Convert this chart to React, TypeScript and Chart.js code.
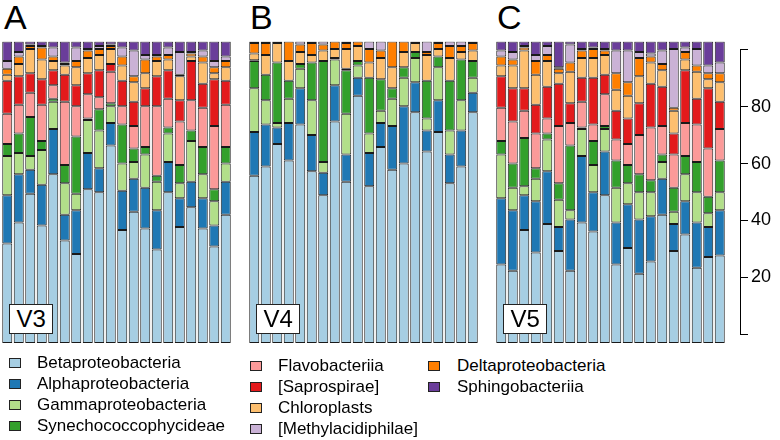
import React, { useEffect, useRef } from "react";
import { Chart, registerables } from "chart.js";
Chart.register(...registerables);

const FONT = "'Liberation Sans', Arial, Helvetica, sans-serif";

// Legend order
const categories = [
  "Betaproteobacteria",
  "Alphaproteobacteria",
  "Gammaproteobacteria",
  "Synechococcophycideae",
  "Flavobacteriia",
  "[Saprospirae]",
  "Chloroplasts",
  "[Methylacidiphilae]",
  "Deltaproteobacteria",
  "Sphingobacteriia",
];
const colors = ["#A6CEE3", "#1F78B4", "#B2DF8A", "#33A02C", "#FB9A99", "#E31A1C", "#FDBF6F", "#CAB2D6", "#FF7F00", "#6A3D9A"];
// stacking order from bottom (indices into categories)
const stackOrder = [0, 1, 2, 3, 4, 5, 6, 8, 7, 9];

const samples = ["1", "2", "3", "4", "5", "6", "7", "8", "9", "10", "11", "12", "13", "14", "15", "16", "17", "18", "19", "20"];
const panelLetters = ["A", "B", "C"];
const regionLabels = ["V3", "V4", "V5"];
const yTicks = [0, 20, 40, 60, 80, 100];

// ---- V3 (panel A) ----
const v3Beta = [33, 40, 49.5, 39, 56, 34, 29.5, 51, 50, 65.5, 37.5, 43.5, 38, 31, 50, 38.5, 45, 38, 32, 42.5];
const v3Alpha = [16, 16, 8, 13.5, 15, 8.5, 14.5, 12, 8, 7.5, 13, 11, 13.5, 13, 10, 9.5, 8.5, 10, 7, 11];
const v3Gamma = [13, 7, 4.5, 11.5, 9, 10.5, 5.5, 11, 12.5, 5.5, 9, 5.5, 11, 9.5, 9.5, 5, 13.5, 8, 8, 6];
const v3Syn = [4, 6.5, 13, 3, 1, 6, 19, 0.5, 7, 1, 13, 4.5, 2.5, 2, 2, 6, 3.5, 9, 4, 5.5];
const v3Flavo = [10, 9.5, 8, 12, 4.5, 21, 10, 8, 4, 10.5, 6, 7.5, 13.5, 23, 9.5, 14.5, 10, 13, 21, 14];
const v3Sapro = [11, 9.5, 6.5, 8.5, 5, 9, 7, 7, 9, 2.5, 8.5, 8, 6, 10, 9.5, 7, 13, 8, 15.5, 8];
const v3Chloro = [2, 4, 8, 6.5, 3, 3, 6, 5, 5, 5, 5, 6.5, 5, 5, 3.5, 8, 1.5, 7, 2, 4.5];
const v3Methyl = [2.5, 1.5, 0.5, 0.5, 3, 0.5, 4.5, 0.5, 1, 0.5, 3, 8.5, 1.5, 0.5, 2.5, 7.5, 0.5, 2, 2, 1.5];
const v3Delta = [2, 2.5, 1, 4, 1.5, 0.5, 2, 2.5, 2, 1, 3, 2, 4.5, 1.5, 1.5, 0.5, 1, 2, 2, 2];
const v3Sphingo = [6.5, 3.5, 1, 1.5, 2, 7, 2, 2.5, 1.5, 1, 2, 3, 4.5, 4.5, 2, 3.5, 3.5, 3, 6.5, 5];

// ---- V4 (panel B) ----
const v4Beta = [55.5, 58.5, 66, 60.5, 72.5, 57, 49, 73.5, 53.5, 82, 52, 65, 57.5, 59.5, 76.5, 63.5, 70, 53, 58.5, 76.5];
const v4Alpha = [14.5, 14, 5.5, 12.5, 12, 12, 7.5, 12, 9, 6, 11, 8, 14.5, 19, 10, 7, 10.5, 9.5, 12, 6.5];
const v4Gamma = [14.5, 8, 1.5, 8, 6.5, 11.5, 3.5, 8.5, 13.5, 4, 6.5, 4, 9, 9.5, 8, 4, 11, 8, 10, 5];
const v4Syn = [9, 8.5, 20, 6, 1.5, 12.5, 33.5, 0.5, 14.5, 1.5, 18.5, 10.5, 3.5, 3.5, 2, 12.5, 3.5, 16.5, 13.5, 5.5];
const v4Flavo = [0, 0, 0, 0, 0, 0, 0, 0, 0, 0, 0, 0, 0, 0, 0, 0, 0, 0, 0, 0];
const v4Sapro = [0.3, 0, 0, 0, 0, 0, 0, 0, 0.5, 0, 0, 0, 0, 0, 0, 0, 0, 0, 0, 0];
const v4Chloro = [2.2, 6.5, 6.5, 6.5, 4, 2.5, 3.5, 3, 6.5, 5, 5, 7, 7, 5, 3, 8.5, 2.5, 7.5, 2.5, 3.5];
const v4Methyl = [0.5, 0, 0, 0, 1, 0, 1, 0, 0, 0, 2.5, 3, 0, 0, 0.2, 3.5, 0.5, 1.5, 1.5, 0];
const v4Delta = [3.5, 4, 0.5, 6.5, 2.5, 4, 2, 2.5, 2, 1.5, 4.5, 2.5, 8.5, 3.5, 0.3, 1, 2, 4, 2, 2.5];
const v4Sphingo = [0, 0.5, 0, 0, 0, 0.5, 0, 0, 0.5, 0, 0, 0, 0, 0, 0, 0, 0, 0, 0, 0.5];

// ---- V5 (panel C) ----
const v5Beta = [26, 24, 37.5, 30, 39.5, 30.5, 24, 40, 37, 49, 26, 31.5, 23, 27, 42.5, 30.5, 36, 25, 28.5, 29];
const v5Alpha = [22, 20, 11.5, 17, 17.5, 8, 17, 22, 13, 14.5, 14, 14.5, 18, 15, 12, 9, 11, 15, 10, 15];
const v5Gamma = [14.5, 7.5, 3, 7.5, 10.5, 9, 3, 9, 9, 7.5, 11.5, 7, 9, 8, 5.5, 4, 9, 10, 4.5, 6];
const v5Syn = [4.5, 8, 16, 3.5, 2, 5.5, 21.5, 0.5, 8, 1, 9, 6, 6, 4, 2.5, 8, 6, 10, 5.5, 10.5];
const v5Flavo = [11, 14, 9, 11.5, 5, 19, 7.5, 8.5, 5.5, 10.5, 7, 7, 13, 17.5, 9.5, 11, 11, 12.5, 16, 10.5];
const v5Sapro = [10.5, 11, 7.5, 9.5, 10.5, 14, 6.5, 8, 15.5, 6.5, 9.5, 8.5, 10.5, 14.5, 13, 7, 17.5, 8.5, 20, 9];
const v5Chloro = [3.5, 7.5, 12.5, 10, 8.5, 3.5, 10.5, 6.5, 6.5, 6.5, 7, 7.5, 9, 7, 5.5, 7.5, 3.5, 9, 3, 6.5];
const v5Methyl = [2, 2.5, 0.5, 2, 3, 0.5, 6, 0.5, 0.5, 0.5, 7.5, 10.5, 2, 1, 4.5, 19.5, 1.5, 5.5, 2.5, 3.5];
const v5Delta = [3, 2, 1, 4.5, 2, 1.5, 3, 2.5, 3, 1.5, 5.5, 4.5, 6, 2, 2, 1, 2.5, 2, 2, 3];
const v5Sphingo = [3, 3.5, 1.5, 4.5, 1.5, 8.5, 1, 2.5, 2, 2.5, 3, 3, 3.5, 4, 3, 2.5, 2, 2.5, 8, 7];

const panelSeries = [
  [v3Beta, v3Alpha, v3Gamma, v3Syn, v3Flavo, v3Sapro, v3Chloro, v3Methyl, v3Delta, v3Sphingo],
  [v4Beta, v4Alpha, v4Gamma, v4Syn, v4Flavo, v4Sapro, v4Chloro, v4Methyl, v4Delta, v4Sphingo],
  [v5Beta, v5Alpha, v5Gamma, v5Syn, v5Flavo, v5Sapro, v5Chloro, v5Methyl, v5Delta, v5Sphingo],
];

// layout
const panelStarts = [1.5, 248.5, 495.5];
const CANVAS_TOP = 36;
const CANVAS_H = 312;
const PAD_TOP = 5.5;
const PAD_BOTTOM = 5;

function Panel({ index }: { index: number }) {
  const ref = useRef<HTMLCanvasElement>(null);
  useEffect(() => {
    const series = panelSeries[index];
    const chart = new Chart(ref.current as HTMLCanvasElement, {
      type: "bar",
      data: {
        labels: samples,
        datasets: stackOrder.map((ci) => ({
          label: categories[ci],
          data: series[ci],
          backgroundColor: colors[ci],
          borderColor: "#1a1a1a",
          borderWidth: 1,
          borderSkipped: false,
          barPercentage: 0.87,
          categoryPercentage: 1,
        })),
      },
      options: {
        animation: false,
        responsive: false,
        maintainAspectRatio: false,
        layout: { padding: { left: 1.5, right: 4.5, top: PAD_TOP, bottom: PAD_BOTTOM } },
        plugins: { legend: { display: false }, tooltip: { enabled: false } },
        scales: {
          x: { stacked: true, display: false, offset: true },
          y: { stacked: true, display: false, min: 0, max: 100 },
        },
      },
    } as any);
    return () => chart.destroy();
  }, [index]);
  return (
    <canvas
      ref={ref}
      width={236}
      height={CANVAS_H}
      style={{ position: "absolute", left: panelStarts[index] - 1.5, top: CANVAS_TOP, width: 236, height: CANVAS_H }}
    />
  );
}

function Axis() {
  const ref = useRef<HTMLCanvasElement>(null);
  useEffect(() => {
    const chart = new Chart(ref.current as HTMLCanvasElement, {
      type: "bar",
      data: { labels: [""], datasets: [] },
      options: {
        animation: false,
        responsive: false,
        maintainAspectRatio: false,
        layout: { padding: { left: 0, right: 0, top: PAD_TOP, bottom: PAD_BOTTOM } },
        plugins: { legend: { display: false }, tooltip: { enabled: false } },
        scales: {
          x: { display: false },
          y: {
            position: "right",
            min: yTicks[0],
            max: yTicks[yTicks.length - 1],
            afterBuildTicks: (scale: any) => {
              scale.ticks = yTicks.map((v) => ({ value: v }));
            },
            afterFit: (scale: any) => {
              scale.width = 40;
            },
            ticks: {
              color: "#000",
              padding: 3,
              font: { size: 18, family: FONT },
              callback: (v: any) => (v === 0 || v === 100 ? "" : String(v)),
            },
            grid: { display: true, drawOnChartArea: false, drawTicks: true, tickLength: 8, color: "#000", lineWidth: 1 },
            border: { display: true, color: "#000", width: 1 },
          },
        },
      },
    } as any);
    return () => chart.destroy();
  }, []);
  return (
    <canvas
      ref={ref}
      width={80}
      height={CANVAS_H}
      style={{ position: "absolute", left: 700, top: CANVAS_TOP, width: 80, height: CANVAS_H }}
    />
  );
}

const legendCols = [
  { items: [0, 1, 2, 3], sqLeft: 9, textLeft: 37, baseline: 369 },
  { items: [4, 5, 6, 7], sqLeft: 250, textLeft: 278, baseline: 372 },
  { items: [8, 9], sqLeft: 428, textLeft: 457, baseline: 372 },
];
const ROW_H = 21;

export default function App() {
  const letterLefts = [4, 250, 497];
  return (
    <div
      style={{
        position: "absolute",
        left: 0,
        top: 0,
        width: 780,
        height: 440,
        background: "#fff",
        fontFamily: FONT,
        color: "#000",
        overflow: "hidden",
      }}
    >
      {[0, 1, 2].map((i) => (
        <Panel key={i} index={i} />
      ))}
      <Axis />
      {panelLetters.map((l, i) => (
        <div
          key={l}
          style={{ position: "absolute", left: letterLefts[i], top: 0, fontSize: 34, lineHeight: "34px" }}
        >
          {l}
        </div>
      ))}
      {regionLabels.map((l, i) => (
        <div
          key={l}
          style={{
            position: "absolute",
            left: panelStarts[i] + 7.8,
            top: 304,
            width: 44,
            height: 30,
            boxSizing: "border-box",
            background: "#fff",
            border: "1px solid #222",
            fontSize: 24,
            lineHeight: "28px",
            textAlign: "center",
          }}
        >
          {l}
        </div>
      ))}
      {legendCols.map((col, c) =>
        col.items.map((ci, r) => {
          const base = col.baseline + r * ROW_H;
          return (
            <React.Fragment key={`${c}-${r}`}>
              <div
                style={{
                  position: "absolute",
                  left: col.sqLeft,
                  top: base - 11,
                  width: 12,
                  height: 10,
                  boxSizing: "border-box",
                  background: colors[ci],
                  border: "1px solid #222",
                }}
              />
              <div
                style={{
                  position: "absolute",
                  left: col.textLeft,
                  top: base - 15.9,
                  fontSize: 17,
                  lineHeight: "20px",
                  whiteSpace: "nowrap",
                }}
              >
                {categories[ci]}
              </div>
            </React.Fragment>
          );
        })
      )}
    </div>
  );
}
